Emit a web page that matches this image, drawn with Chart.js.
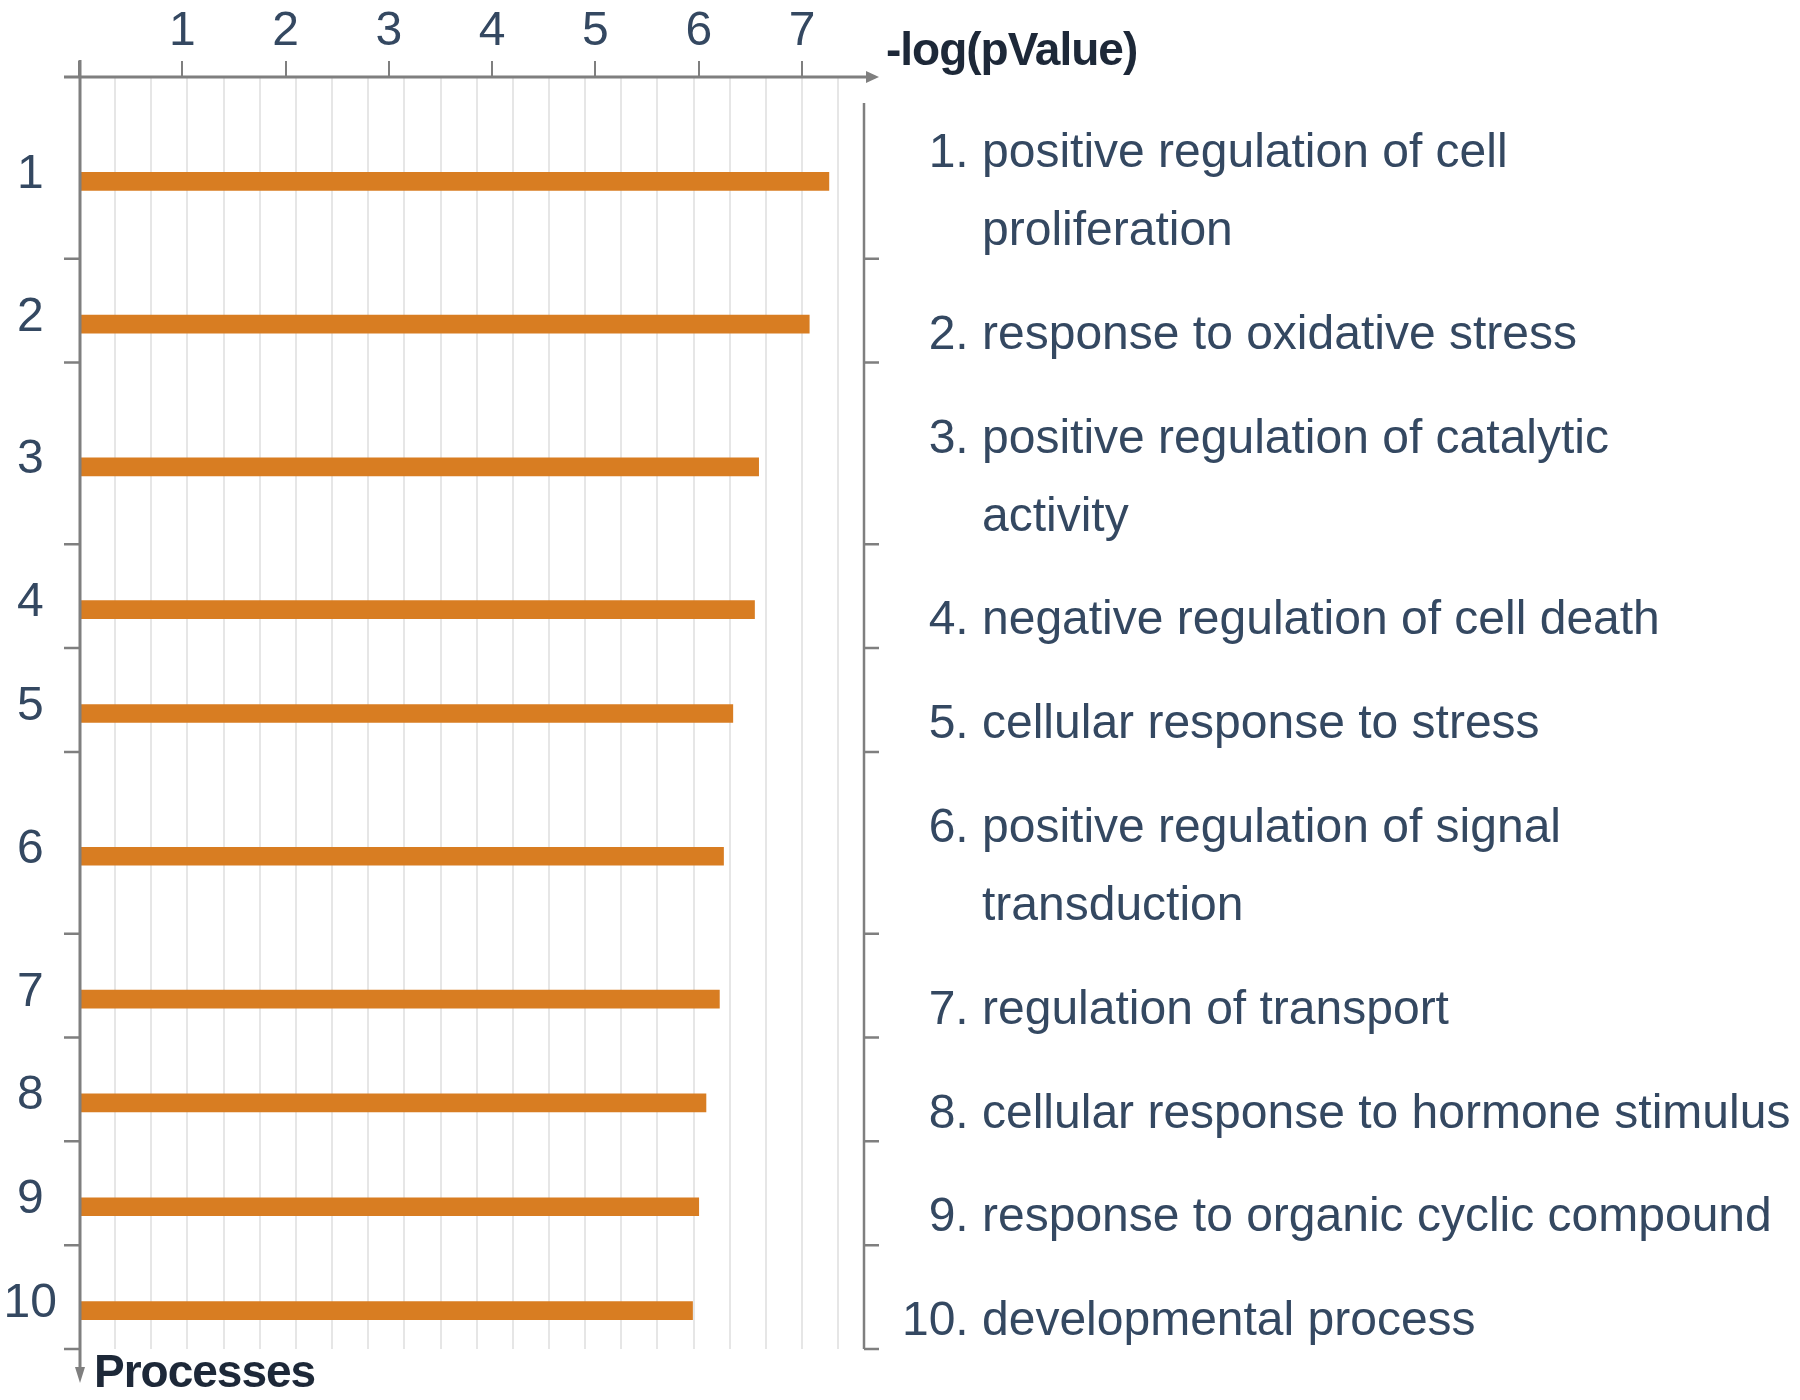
<!DOCTYPE html>
<html>
<head>
<meta charset="utf-8">
<title>-log(pValue) por processo</title>
<script src="https://cdn.jsdelivr.net/npm/chart.js@4.4.1/dist/chart.umd.min.js"></script>
<style>
  html, body { margin: 0; padding: 0; background: #fff; }
  canvas { display: block; }
</style>
</head>
<body>
<canvas id="grafico" width="1800" height="1400"></canvas>
<script>
// Dados
const processos = [
  "positive regulation of cell proliferation",
  "response to oxidative stress",
  "positive regulation of catalytic activity",
  "negative regulation of cell death",
  "cellular response to stress",
  "positive regulation of signal transduction",
  "regulation of transport",
  "cellular response to hormone stimulus",
  "response to organic cyclic compound",
  "developmental process"
];
const valores = [7.26, 7.07, 6.58, 6.54, 6.33, 6.24, 6.20, 6.07, 6.00, 5.94];
const ticksX = [0, 1, 2, 3, 4, 5, 6, 7];
const tituloX = "-log(pValue)";
const tituloY = "Processes";

// Estilo
const FONTE = '"Liberation Sans", Arial, sans-serif';
const COR_TEXTO = "#344861";
const COR_TITULO = "#1d2838";
const COR_EIXO = "#7f7f7f";
const COR_GRADE = "#e6e6e6";
const COR_BARRA = "#d87d22";
const MAX_CHARS = 40;       // quebra de linha dos rótulos
const LINHA_EXTRA = 0.75;   // altura a mais por linha extra do rótulo
const DESLOC_BARRA = 0.13;  // barra um pouco abaixo do centro da faixa
const DESLOC_NUM = 0.065;   // números à esquerda também um pouco abaixo
const PASSO_GRADE = 0.35;

// Quebrar rótulos longos
function quebrar(texto) {
  const linhas = [];
  let atual = "";
  texto.split(" ").forEach(p => {
    if (atual && (atual + " " + p).length > MAX_CHARS) {
      linhas.push(atual);
      atual = p;
    } else {
      atual = atual ? atual + " " + p : p;
    }
  });
  linhas.push(atual);
  return linhas;
}

const rotulos = processos.map(quebrar);
let acc = 0;
const faixas = rotulos.map(l => {
  const h = 1 + LINHA_EXTRA * (l.length - 1);
  const f = { ini: acc, meio: acc + h / 2, fim: acc + h };
  acc += h;
  return f;
});
const totalY = acc;

// Eixos, setas, separador e textos
const decor = {
  id: "decor",
  afterDraw(chart) {
    const { ctx, chartArea: a, scales } = chart;
    const y = scales.y;
    const ex = a.left + 1;
    ctx.save();
    ctx.strokeStyle = COR_EIXO;
    ctx.fillStyle = COR_EIXO;

    ctx.lineWidth = 3;
    ctx.beginPath();
    ctx.moveTo(a.left - 15, a.top);
    ctx.lineTo(a.right + 4, a.top);
    ctx.stroke();
    ctx.beginPath();
    ctx.moveTo(a.right + 15, a.top);
    ctx.lineTo(a.right + 2, a.top - 6);
    ctx.lineTo(a.right + 2, a.top + 6);
    ctx.closePath();
    ctx.fill();

    ctx.beginPath();
    ctx.moveTo(ex, a.top - 17);
    ctx.lineTo(ex, a.bottom + 20);
    ctx.stroke();
    ctx.beginPath();
    ctx.moveTo(ex, a.bottom + 34);
    ctx.lineTo(ex - 5, a.bottom + 18);
    ctx.lineTo(ex + 5, a.bottom + 18);
    ctx.closePath();
    ctx.fill();

    ctx.lineWidth = 2.5;
    ctx.beginPath();
    ctx.moveTo(a.right, a.top + 26);
    ctx.lineTo(a.right, a.bottom);
    ctx.stroke();
    faixas.forEach(f => {
      const py = y.getPixelForValue(f.fim);
      ctx.beginPath();
      ctx.moveTo(a.left - 15, py);
      ctx.lineTo(ex, py);
      ctx.moveTo(a.right, py);
      ctx.lineTo(a.right + 15, py);
      ctx.stroke();
    });

    // rótulos à direita
    const tx = a.right + 118;
    const passo = (y.getPixelForValue(1) - y.getPixelForValue(0)) * LINHA_EXTRA;
    ctx.font = "48px " + FONTE;
    ctx.fillStyle = COR_TEXTO;
    ctx.textBaseline = "middle";
    rotulos.forEach((linhas, i) => {
      const cy = y.getPixelForValue(faixas[i].meio) + 25;
      linhas.forEach((t, k) => {
        const ly = cy + (k - (linhas.length - 1) / 2) * passo;
        if (k === 0) {
          ctx.textAlign = "right";
          ctx.fillText((i + 1) + ". ", tx, ly);
        }
        ctx.textAlign = "left";
        ctx.fillText(t, tx, ly);
      });
    });

    // títulos dos eixos
    ctx.font = "bold 46px " + FONTE;
    ctx.letterSpacing = "-1px";
    ctx.fillStyle = COR_TITULO;
    ctx.textBaseline = "alphabetic";
    ctx.textAlign = "left";
    ctx.fillText(tituloX, a.right + 22, a.top - 12);
    ctx.fillText(tituloY, a.left + 15, a.bottom + 38);
    ctx.restore();
  }
};

const ctx = document.getElementById("grafico");
new Chart(ctx, {
  type: "bar",
  data: {
    datasets: [{
      data: valores.map((v, i) => ({ x: v, y: faixas[i].meio + DESLOC_BARRA })),
      backgroundColor: COR_BARRA,
      borderWidth: 0,
      barThickness: 18,
      xAxisID: "x",
      yAxisID: "y"
    }]
  },
  options: {
    indexAxis: "y",
    responsive: false,
    animation: false,
    devicePixelRatio: 1,
    layout: { padding: { left: 0, top: 0, right: 936, bottom: 51 } },
    plugins: { legend: { display: false }, tooltip: { enabled: false } },
    scales: {
      x: {
        type: "linear", position: "top", min: 0, max: 7.6,
        afterBuildTicks: s => { s.ticks = ticksX.map(v => ({ value: v })); },
        afterFit: s => { s.height = 77; s.paddingLeft = 0; s.paddingRight = 0; },
        ticks: {
          padding: 0, autoSkip: false, maxRotation: 0,
          font: { family: FONTE, size: 48 }, color: COR_TEXTO,
          callback: v => v === 0 ? "" : String(v)
        },
        grid: { drawOnChartArea: false, drawTicks: true, tickLength: 16, color: COR_EIXO, lineWidth: 2 },
        border: { display: false }
      },
      grade: {
        type: "linear", position: "top", min: 0, max: 7.6,
        afterBuildTicks: s => {
          const t = [];
          for (let k = 1; k * PASSO_GRADE <= 7.6 - 0.1; k++) t.push({ value: k * PASSO_GRADE });
          s.ticks = t;
        },
        afterFit: s => { s.height = 0; s.paddingLeft = 0; s.paddingRight = 0; },
        ticks: { display: false },
        grid: { drawTicks: false, color: COR_GRADE, lineWidth: 2 },
        border: { display: false }
      },
      y: {
        type: "linear", position: "left", reverse: true, min: 0, max: totalY,
        offset: false,
        afterBuildTicks: s => { s.ticks = faixas.map(f => ({ value: f.meio + DESLOC_NUM })); },
        afterFit: s => { s.width = 79; s.paddingTop = 0; s.paddingBottom = 0; },
        ticks: {
          crossAlign: "center", padding: 22, autoSkip: false,
          font: { family: FONTE, size: 48 }, color: COR_TEXTO,
          callback: (v, i) => String(i + 1)
        },
        grid: { display: false, drawTicks: false, offset: false },
        border: { display: false }
      }
    }
  },
  plugins: [decor]
});
</script>
</body>
</html>
